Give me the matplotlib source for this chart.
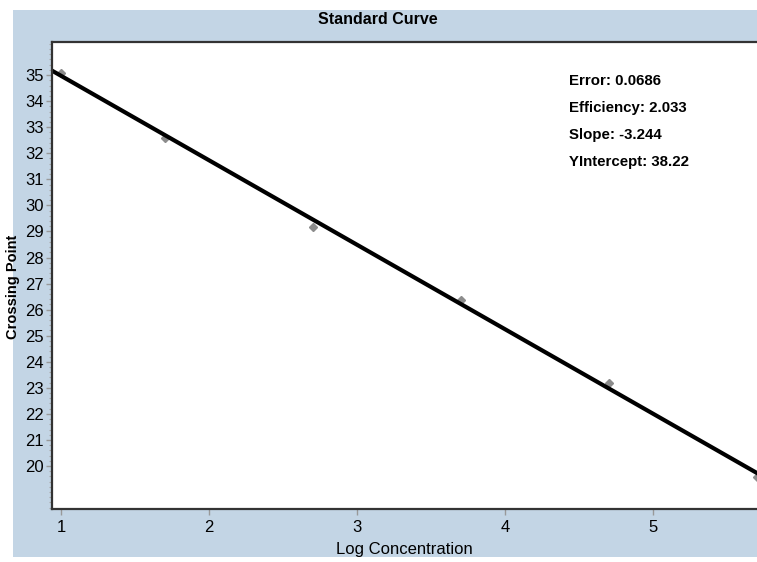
import matplotlib.pyplot as plt
from matplotlib.ticker import MultipleLocator
import numpy as np

# Standard curve data
log_conc = [1.0, 1.7, 2.7, 3.7, 4.7, 5.7]
crossing_pt = [35.08, 32.58, 29.18, 26.38, 23.18, 19.58]
slope = -3.244
intercept = 38.22
stats_labels = ["Error: 0.0686", "Efficiency: 2.033", "Slope: -3.244", "YIntercept: 38.22"]
y_ticks = list(range(20, 36))
x_ticks = [1, 2, 3, 4, 5]

narrow = ['Liberation Sans Narrow', 'Liberation Sans', 'DejaVu Sans']
sans = ['Liberation Sans', 'DejaVu Sans']
W, H = 757, 562

fig = plt.figure(figsize=(W / 100, H / 100), dpi=100)
fig.patch.set_facecolor('white')

# Light blue panel behind the plot
bg = fig.add_axes([13 / W, 5 / H, 1 - 13 / W, (552 - 5) / H], zorder=0)
bg.set_facecolor('#c3d5e5')
bg.set_xticks([])
bg.set_yticks([])
for s in bg.spines.values():
    s.set_visible(False)

ax = fig.add_axes([52 / W, (H - 509) / H, (W - 52) / W, (509 - 42) / H], zorder=1)
ax.set_facecolor('white')

# Fitted line across the axis range
xs = np.array([0.94, 5.76])
ax.plot(xs, slope * xs + intercept, color='black', lw=3, zorder=2,
        solid_capstyle='butt')
ax.plot(log_conc, crossing_pt, 'D', color='#8c8c8c', ms=4, zorder=1)

ax.set_xlim(0.94, 5.70)
ax.set_ylim(18.35, 36.27)
ax.set_xticks(x_ticks)
ax.set_yticks(y_ticks)
ax.yaxis.set_minor_locator(MultipleLocator(0.2))
ax.tick_params(axis='both', which='major', length=4, width=1, color='#999999',
               labelsize=12, pad=2)
ax.tick_params(axis='x', which='major', pad=4)
ax.tick_params(axis='y', which='minor', length=2, width=0.8, color='#aaaaaa')
for lab in ax.get_xticklabels() + ax.get_yticklabels():
    lab.set_family(narrow)

for s in ['top', 'left', 'bottom']:
    ax.spines[s].set_color('#333333')
    ax.spines[s].set_linewidth(1.6)
ax.spines['right'].set_visible(False)

ax.set_xlabel("Log Concentration", family=narrow, fontsize=12, labelpad=5)
ax.set_ylabel("Crossing Point", fontsize=10.5, fontweight='bold', family=sans)
ax.yaxis.set_label_coords(-0.046, 0.475)

fig.text(378 / W, 1 - 20 / H, "Standard Curve", ha='center', va='center',
         fontsize=11.5, fontweight='bold', family=narrow, zorder=3)

for i, s in enumerate(stats_labels):
    fig.text(569 / W, 1 - (81 + 27 * i) / H, s, ha='left', va='center',
             fontsize=10.8, fontweight='bold', family=sans, zorder=3)

fig.savefig('out.png', dpi=100)
